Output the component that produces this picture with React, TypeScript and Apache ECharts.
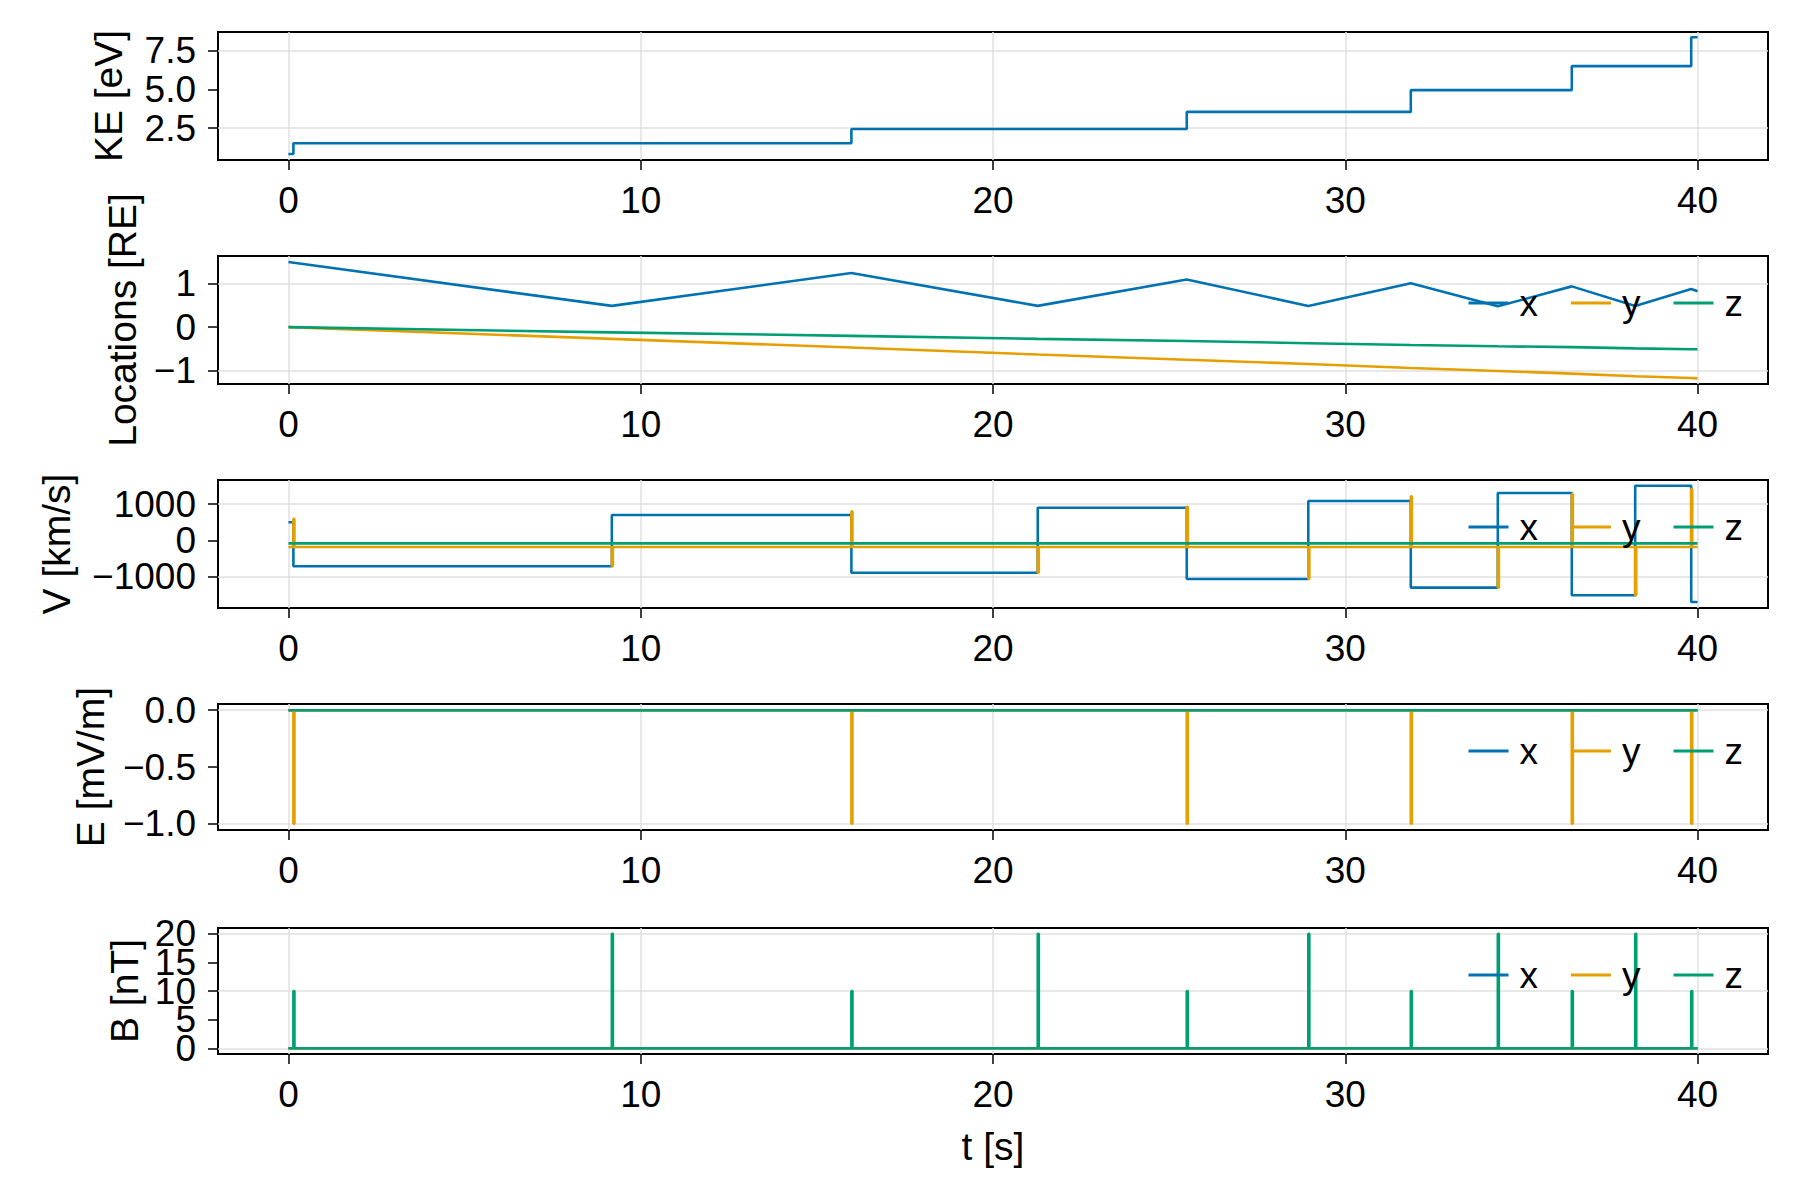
import React, { useEffect, useRef } from "react";
import * as echarts from "echarts";

// ---------- data ----------
const eventTimes = [0.14, 9.18, 15.98, 21.27, 25.5, 28.95, 31.86, 34.33, 36.43, 38.23, 39.82];
const tEnd = 40;

const keTimes = [0, 0.14, 15.98, 25.5, 31.86, 36.43, 39.82, 40];
const keValues = [0.82, 1.51, 2.44, 3.54, 4.95, 6.5, 8.37, 8.37];

const locTimes = [0, 9.18, 15.98, 21.27, 25.5, 28.95, 31.86, 34.33, 36.43, 38.23, 39.82, 40];
const locX = [1.5, 0.49, 1.25, 0.49, 1.1, 0.49, 1.01, 0.48, 0.94, 0.49, 0.88, 0.83];
const locY = [0, -0.27, -0.47, -0.63, -0.75, -0.85, -0.94, -1.01, -1.07, -1.13, -1.17, -1.18];
const locZ = [0, -0.12, -0.2, -0.27, -0.32, -0.37, -0.41, -0.44, -0.46, -0.49, -0.51, -0.51];

const vxTimes = [0, 0.14, 9.18, 15.98, 21.27, 25.5, 28.95, 31.86, 34.33, 36.43, 38.23, 39.82, 40];
const vxValues = [500, -720, 700, -900, 900, -1070, 1090, -1310, 1310, -1520, 1510, -1710, -1710];
const vyBase = -186;
const vySpikes = [592, -720, 800, -900, 930, -1070, 1220, -1310, 1280, -1520, 1420];
const vzBase = -85;

const exBase = 0;
const eyBase = 0;
const eySpikes = [-1, 0, -1, 0, -1, 0, -1, 0, -1, 0, -1];
const ezBase = 0;

const bxBase = 0;
const byBase = 0;
const bzBase = 0;
const bzSpikes = [10, 20, 10, 20, 10, 20, 10, 20, 10, 20, 10];

const xTicks = [0, 10, 20, 30, 40];
const keTicks = [2.5, 5.0, 7.5];
const locTicks = [-1, 0, 1];
const vTicks = [-1000, 0, 1000];
const eTicks = [-1.0, -0.5, 0.0];
const bTicks = [0, 5, 10, 15, 20];

const yLabels = ["KE [eV]", "Locations [RE]", "V [km/s]", "E [mV/m]", "B [nT]"];
const seriesNames = ["x", "y", "z"];

// ---------- style / layout ----------
const BLUE = "#0072B2";
const ORANGE = "#E69F00";
const GREEN = "#009E73";
const FONT = "'Liberation Sans', Arial, sans-serif";
const FS = 37;
const NAME_FS = 39;
const LW = 2.6;
const SPIKE_W = 0.03;

const panelTops = [32, 256, 480, 704, 928];
const panelHeights = [128, 128, 128, 126, 126];
const nameGaps = [90, 76, 142, 108, 74];
const yRanges = [
  [0.43, 8.71],
  [-1.31, 1.64],
  [-1875, 1670],
  [-1.055, 0.055],
  [-1, 21],
];
const yIntervals = [2.5, 1, 1000, 0.5, 5];
const yTickSets = [keTicks, locTicks, vTicks, eTicks, bTicks];
const yDigits = [1, 0, 0, 1, 0];

const zip = (ts: number[], vs: number[]) => ts.map((t, i) => [t, vs[i]]);
const constant = (v: number) => [[0, v], [tEnd, v]];
const spiky = (base: number, spikes: number[]) => {
  const pts: number[][] = [[0, base]];
  eventTimes.forEach((t, i) => {
    pts.push([t, spikes[i]]);
    pts.push([t + SPIKE_W, base]);
  });
  pts.push([tEnd, base]);
  return pts;
};

const fmt = (v: number, d: number) => {
  const s = Math.abs(v).toFixed(d);
  return v < 0 ? "\u2212" + s : s;
};

export default function App() {
  const ref = useRef<HTMLDivElement>(null);
  useEffect(() => {
    if (!ref.current) return;
    const chart = echarts.init(ref.current, undefined, { renderer: "svg" });

    const grid = panelTops.map((top, i) => ({
      left: 218,
      right: 32,
      top,
      height: panelHeights[i],
      show: true,
      borderColor: "#000",
      borderWidth: 2,
      backgroundColor: "transparent",
      containLabel: false,
      outerBoundsMode: "none",
    }));

    const xAxis = panelTops.map((_, i) => ({
      type: "value",
      gridIndex: i,
      position: "bottom",
      min: -2,
      max: 42,
      minInterval: 10,
      maxInterval: 10,
      name: i === 4 ? "t [s]" : "",
      nameLocation: "middle",
      nameGap: 73,
      nameTextStyle: { fontSize: NAME_FS, color: "#000", fontFamily: FONT },
      axisLine: { show: false, onZero: false },
      axisTick: { show: true, inside: false, length: 10, lineStyle: { color: "#000", width: 1.5 }, customValues: xTicks },
      axisLabel: { show: true, customValues: xTicks, margin: 22, fontSize: FS, color: "#000", fontFamily: FONT, hideOverlap: false, formatter: (v: number) => fmt(v, 0) },
      splitLine: { show: true, lineStyle: { color: "#e0e0e0", width: 1.5 } },
    }));

    // Two y axes per panel: the tick labels are split into alternating subsets so
    // that neighbouring (overlapping) labels are never dropped by ECharts.
    const yAxis: any[] = [];
    panelTops.forEach((_, i) => {
      const ticks = yTickSets[i];
      const setA = ticks.filter((_, k) => k % 2 === 0);
      const setB = ticks.filter((_, k) => k % 2 === 1);
      const base = {
        type: "value",
        gridIndex: i,
        position: "left",
        offset: 0,
        min: yRanges[i][0],
        max: yRanges[i][1],
        minInterval: yIntervals[i],
        maxInterval: yIntervals[i],
        axisLine: { show: false, onZero: false },
      };
      const lbl = (vals: number[]) => ({
        show: true,
        customValues: vals,
        margin: 22,
        fontSize: FS,
        color: "#000",
        fontFamily: FONT,
        hideOverlap: false,
        showMinLabel: true,
        showMaxLabel: true,
        formatter: (v: number) => fmt(v, yDigits[i]),
      });
      const tick = (vals: number[]) => ({ show: true, inside: false, length: 10, lineStyle: { color: "#000", width: 1.5 }, customValues: vals });
      yAxis.push({
        ...base,
        name: yLabels[i],
        nameLocation: "middle",
        nameRotate: 90,
        nameGap: nameGaps[i],
        nameTextStyle: { fontSize: NAME_FS, color: "#000", fontFamily: FONT },
        axisTick: tick(setA),
        axisLabel: lbl(setA),
        splitLine: { show: true, lineStyle: { color: "#e0e0e0", width: 1.5 } },
      });
      yAxis.push({
        ...base,
        name: "",
        axisTick: tick(setB),
        axisLabel: lbl(setB),
        splitLine: { show: false },
      });
    });

    const colors = [BLUE, ORANGE, GREEN];
    const mk = (panel: number, name: string, color: string, data: number[][], step: boolean) => ({
      type: "line",
      name,
      xAxisIndex: panel,
      yAxisIndex: panel * 2,
      data,
      step: step ? "end" : false,
      symbol: "none",
      showSymbol: false,
      lineStyle: { color, width: LW },
      itemStyle: { color },
      silent: true,
    });

    const series = [
      mk(0, "KE", BLUE, zip(keTimes, keValues), true),
      mk(1, "x", BLUE, zip(locTimes, locX), false),
      mk(1, "y", ORANGE, zip(locTimes, locY), false),
      mk(1, "z", GREEN, zip(locTimes, locZ), false),
      mk(2, "x", BLUE, zip(vxTimes, vxValues), true),
      mk(2, "y", ORANGE, spiky(vyBase, vySpikes), true),
      mk(2, "z", GREEN, constant(vzBase), true),
      mk(3, "x", BLUE, constant(exBase), true),
      mk(3, "y", ORANGE, spiky(eyBase, eySpikes), true),
      mk(3, "z", GREEN, constant(ezBase), true),
      mk(4, "x", BLUE, constant(bxBase), true),
      mk(4, "y", ORANGE, constant(byBase), true),
      mk(4, "z", GREEN, spiky(bzBase, bzSpikes), true),
    ];

    const legend = [1, 2, 3, 4].map((p) => ({
      data: seriesNames,
      orient: "horizontal",
      right: 57,
      top: panelTops[p] + 47 - FS / 2,
      padding: 0,
      itemWidth: 40,
      itemHeight: 3,
      itemGap: 33,
      icon: "rect",
      selectedMode: false,
      textStyle: { fontSize: FS, color: "#000", fontFamily: FONT, padding: [0, 0, 0, 6] },
    }));

    chart.setOption({
      animation: false,
      backgroundColor: "#fff",
      color: colors,
      grid,
      xAxis,
      yAxis,
      legend,
      series,
    });
    return () => chart.dispose();
  }, []);

  return (
    <div
      ref={ref}
      style={{ position: "absolute", left: 0, top: 0, width: 1800, height: 1200 }}
    />
  );
}
